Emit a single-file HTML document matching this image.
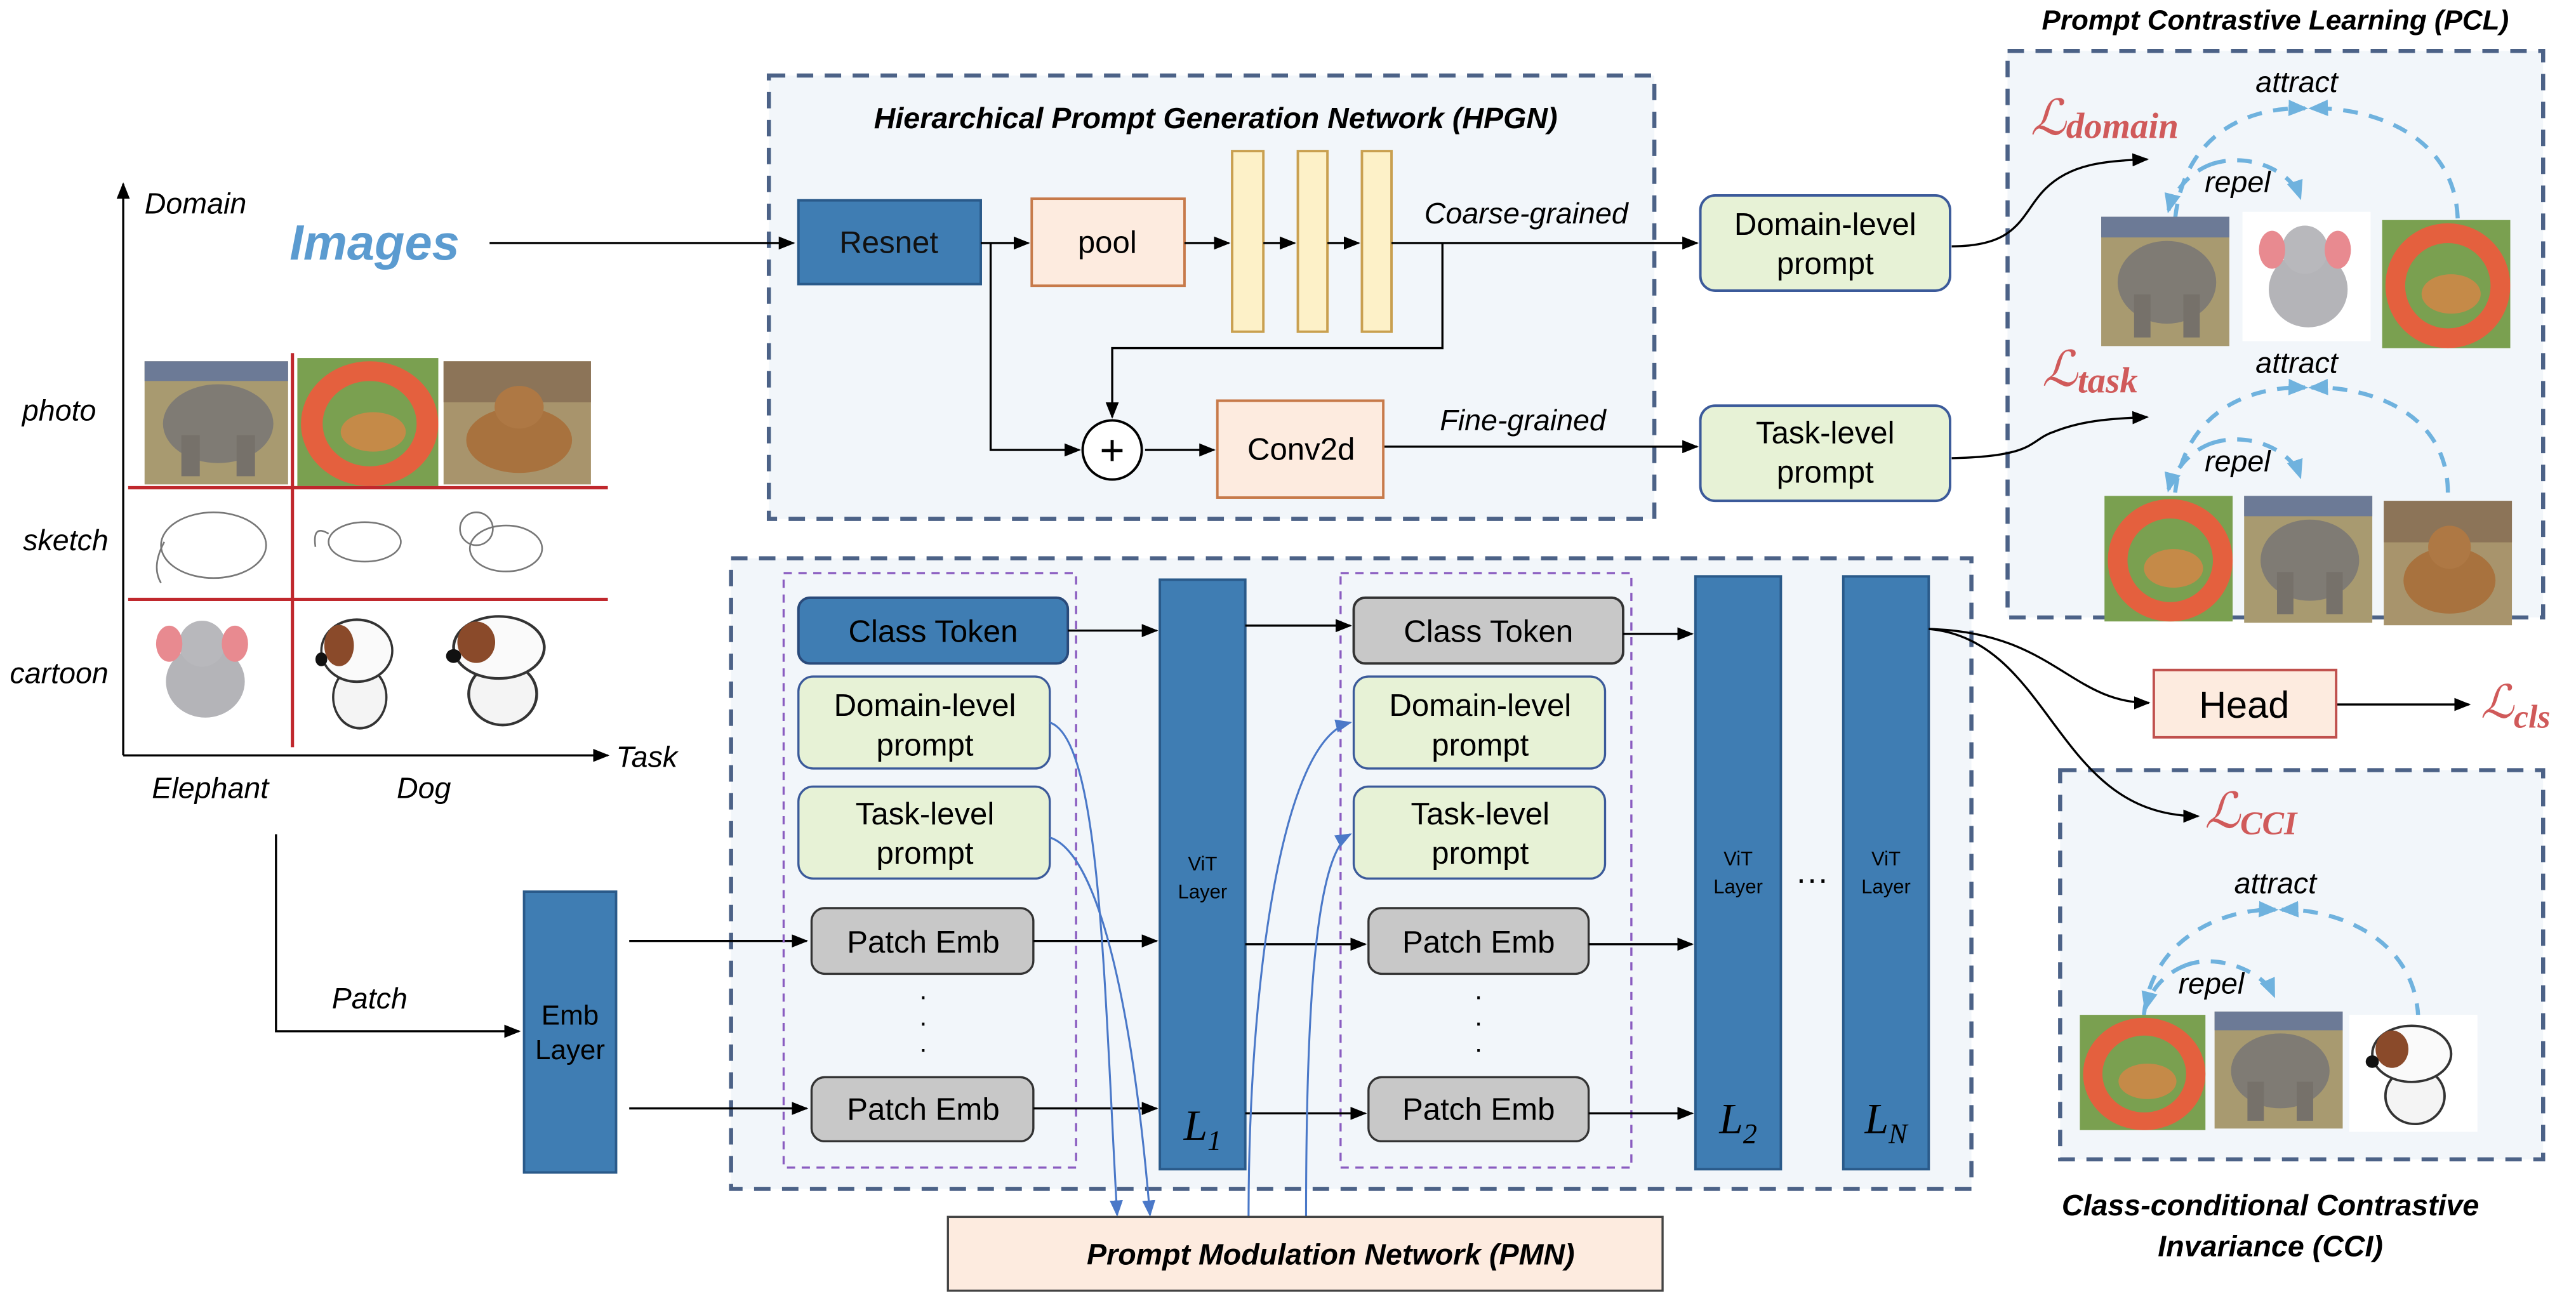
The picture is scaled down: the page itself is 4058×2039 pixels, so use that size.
<!DOCTYPE html>
<html><head><meta charset="utf-8"><style>html,body{margin:0;padding:0;background:#fff}svg{display:block}</style></head>
<body>
<svg width="4058" height="2039" viewBox="0 0 1568 788" preserveAspectRatio="none" xmlns="http://www.w3.org/2000/svg" font-family="Liberation Sans, Arial, sans-serif">
<defs>
<marker id="a" markerWidth="10" markerHeight="8" refX="9" refY="4" orient="auto" markerUnits="userSpaceOnUse"><path d="M0,0 L10,4 L0,8 Z" fill="#000"/></marker>
<marker id="b" markerWidth="10" markerHeight="8" refX="9" refY="4" orient="auto" markerUnits="userSpaceOnUse"><path d="M0,0 L10,4 L0,8 Z" fill="#4a78c8"/></marker>
<marker id="c" markerWidth="12" markerHeight="10" refX="10" refY="5" orient="auto" markerUnits="userSpaceOnUse"><path d="M0,0 L12,5 L0,10 Z" fill="#6fb2de"/></marker>
<g id="ephoto"><rect width="78" height="75" fill="#a89a70"/><rect width="78" height="12" fill="#6c7a96"/><ellipse cx="40" cy="38" rx="30" ry="24" fill="#7f7b74"/><rect x="20" y="45" width="10" height="25" fill="#76716a"/><rect x="50" y="45" width="10" height="25" fill="#76716a"/></g>
<g id="dring"><rect width="78" height="78" fill="#7aa050"/><circle cx="40" cy="40" r="32" fill="none" stroke="#e4603e" stroke-width="12"/><ellipse cx="42" cy="45" rx="18" ry="12" fill="#c58a48"/></g>
<g id="dphoto"><rect width="78" height="75" fill="#a8946c"/><rect width="78" height="25" fill="#8c7458"/><ellipse cx="40" cy="48" rx="28" ry="20" fill="#a8723e"/><circle cx="40" cy="28" r="13" fill="#ae7844"/></g>
<g id="ecart"><rect width="78" height="75" fill="#fff"/><ellipse cx="40" cy="45" rx="24" ry="22" fill="#b4b4b8"/><circle cx="38" cy="22" r="14" fill="#b8b8bc"/><ellipse cx="18" cy="22" rx="8" ry="11" fill="#e88a90"/><ellipse cx="58" cy="22" rx="8" ry="11" fill="#e88a90"/></g>
<g id="dcart"><rect width="78" height="75" fill="#fff"/><ellipse cx="40" cy="52" rx="18" ry="18" fill="#f4f4f4" stroke="#333" stroke-width="1.5"/><ellipse cx="38" cy="25" rx="24" ry="18" fill="#fafafa" stroke="#333" stroke-width="1.5"/><ellipse cx="26" cy="22" rx="10" ry="12" fill="#8a4a2a"/><circle cx="14" cy="30" r="4" fill="#111"/></g>
</defs>

<!-- container boxes first -->
<rect x="468" y="46" width="539" height="270" fill="#f2f6fa" stroke="#4c6287" stroke-width="2.5" stroke-dasharray="10,7"/>
<rect x="445" y="340" width="755" height="384" fill="#f2f6fa" stroke="#4c6287" stroke-width="2.5" stroke-dasharray="10,7"/>
<rect x="1222" y="31" width="326" height="345" fill="#f2f6fa" stroke="#4c6287" stroke-width="2.5" stroke-dasharray="10,7"/>
<rect x="1254" y="469" width="294" height="237" fill="#f2f6fa" stroke="#4c6287" stroke-width="2.5" stroke-dasharray="10,7"/>

<text x="740" y="78" text-anchor="middle" font-size="18" font-weight="bold" font-style="italic">Hierarchical Prompt Generation Network (HPGN)</text>
<rect x="486" y="122" width="111" height="51" fill="#3f7db3" stroke="#2a5a8a" stroke-width="1.5"/>
<text x="541" y="154" text-anchor="middle" font-size="19" fill="#111">Resnet</text>
<rect x="628" y="121" width="93" height="53" fill="#fdebdf" stroke="#c77a4a" stroke-width="1.5"/>
<text x="674" y="154" text-anchor="middle" font-size="19">pool</text>
<rect x="750" y="92" width="19" height="110" fill="#fdf1c8" stroke="#c9a050" stroke-width="1.5"/>
<rect x="790" y="92" width="18" height="110" fill="#fdf1c8" stroke="#c9a050" stroke-width="1.5"/>
<rect x="829" y="92" width="18" height="110" fill="#fdf1c8" stroke="#c9a050" stroke-width="1.5"/>
<g stroke="#000" stroke-width="1.3" fill="none">
<line x1="597" y1="148" x2="626" y2="148" marker-end="url(#a)"/>
<line x1="721" y1="148" x2="748" y2="148" marker-end="url(#a)"/>
<line x1="769" y1="148" x2="788" y2="148" marker-end="url(#a)"/>
<line x1="808" y1="148" x2="827" y2="148" marker-end="url(#a)"/>
<line x1="847" y1="148" x2="1033" y2="148" marker-end="url(#a)"/>
<polyline points="603,148 603,274 657,274" marker-end="url(#a)"/>
<polyline points="878,148 878,212 677,212 677,254" marker-end="url(#a)"/>
<line x1="697" y1="274" x2="739" y2="274" marker-end="url(#a)"/>
<line x1="842" y1="272" x2="1033" y2="272" marker-end="url(#a)"/>
<line x1="298" y1="148" x2="483" y2="148" marker-end="url(#a)"/>
</g>
<circle cx="677" cy="274" r="18" fill="#fff" stroke="#000" stroke-width="1.5"/>
<text x="677" y="283" text-anchor="middle" font-size="26">+</text>
<rect x="741" y="244" width="101" height="59" fill="#fdebdf" stroke="#c77a4a" stroke-width="1.5"/>
<text x="792" y="280" text-anchor="middle" font-size="19">Conv2d</text>
<text x="929" y="136" text-anchor="middle" font-size="18" font-style="italic">Coarse-grained</text>
<text x="927" y="262" text-anchor="middle" font-size="18" font-style="italic">Fine-grained</text>
<rect x="1035" y="119" width="152" height="58" rx="9" fill="#e7f2d6" stroke="#3b5a9a" stroke-width="1.5"/>
<text x="1111" y="143" text-anchor="middle" font-size="19">Domain-level</text>
<text x="1111" y="167" text-anchor="middle" font-size="19">prompt</text>
<rect x="1035" y="247" width="152" height="58" rx="9" fill="#e7f2d6" stroke="#3b5a9a" stroke-width="1.5"/>
<text x="1111" y="270" text-anchor="middle" font-size="19">Task-level</text>
<text x="1111" y="294" text-anchor="middle" font-size="19">prompt</text>

<text x="228" y="158" text-anchor="middle" font-size="30" font-weight="bold" font-style="italic" fill="#5b9bd0">Images</text>

<g stroke="#000" stroke-width="1.3" fill="none">
<line x1="75" y1="460" x2="75" y2="112" marker-end="url(#a)"/>
<line x1="75" y1="460" x2="370" y2="460" marker-end="url(#a)"/>
<polyline points="168,508 168,628 316,628" marker-end="url(#a)"/>
<line x1="383" y1="573" x2="491" y2="573" marker-end="url(#a)"/>
<line x1="383" y1="675" x2="491" y2="675" marker-end="url(#a)"/>
</g>
<text x="88" y="130" font-size="18" font-style="italic">Domain</text>
<text x="375" y="467" font-size="18" font-style="italic">Task</text>
<text x="36" y="256" text-anchor="middle" font-size="18" font-style="italic">photo</text>
<text x="40" y="335" text-anchor="middle" font-size="18" font-style="italic">sketch</text>
<text x="36" y="416" text-anchor="middle" font-size="18" font-style="italic">cartoon</text>
<text x="128" y="486" text-anchor="middle" font-size="18" font-style="italic">Elephant</text>
<text x="258" y="486" text-anchor="middle" font-size="18" font-style="italic">Dog</text>
<text x="225" y="614" text-anchor="middle" font-size="18" font-style="italic">Patch</text>

<use href="#ephoto" transform="translate(88,220) scale(1.12,1.0)"/>
<use href="#dring" transform="translate(181,218) scale(1.1,1.0)"/>
<use href="#dphoto" transform="translate(270,220) scale(1.15,1.0)"/>
<g fill="none" stroke="#777" stroke-width="1">
<ellipse cx="130" cy="332" rx="32" ry="20"/><path d="M100,330 q-8,15 -2,25"/>
<ellipse cx="222" cy="330" rx="22" ry="12"/><path d="M200,325 q-10,-6 -8,8"/>
<ellipse cx="308" cy="334" rx="22" ry="14"/><circle cx="290" cy="322" r="10"/>
</g>
<use href="#ecart" transform="translate(85,370)"/>
<use href="#dcart" transform="translate(183,370) scale(0.9,1.05)"/>
<use href="#dcart" transform="translate(260,368) scale(1.15,1.05)"/>
<g stroke="#c0282d" stroke-width="2">
<line x1="178" y1="215" x2="178" y2="455"/>
<line x1="78" y1="297" x2="370" y2="297"/>
<line x1="78" y1="365" x2="370" y2="365"/>
</g>

<rect x="319" y="543" width="56" height="171" fill="#3f7db3" stroke="#2a5a8a" stroke-width="1.5"/>
<text x="347" y="624" text-anchor="middle" font-size="17">Emb</text>
<text x="347" y="645" text-anchor="middle" font-size="17">Layer</text>

<rect x="477" y="349" width="178" height="362" fill="none" stroke="#8a5cc0" stroke-width="1.3" stroke-dasharray="5,4"/>
<rect x="816" y="349" width="177" height="362" fill="none" stroke="#8a5cc0" stroke-width="1.3" stroke-dasharray="5,4"/>

<rect x="486" y="364" width="164" height="40" rx="7" fill="#3f7db3" stroke="#2a4a7a" stroke-width="1.5"/>
<text x="568" y="391" text-anchor="middle" font-size="19">Class Token</text>
<rect x="486" y="412" width="153" height="56" rx="9" fill="#e7f2d6" stroke="#3b5a9a" stroke-width="1.3"/>
<text x="563" y="436" text-anchor="middle" font-size="19">Domain-level</text>
<text x="563" y="460" text-anchor="middle" font-size="19">prompt</text>
<rect x="486" y="479" width="153" height="56" rx="9" fill="#e7f2d6" stroke="#3b5a9a" stroke-width="1.3"/>
<text x="563" y="502" text-anchor="middle" font-size="19">Task-level</text>
<text x="563" y="526" text-anchor="middle" font-size="19">prompt</text>
<rect x="494" y="553" width="135" height="40" rx="8" fill="#c8c8c8" stroke="#333" stroke-width="1.3"/>
<text x="562" y="580" text-anchor="middle" font-size="19">Patch Emb</text>
<text x="562" y="612" text-anchor="middle" font-size="16">·</text>
<text x="562" y="628" text-anchor="middle" font-size="16">·</text>
<text x="562" y="644" text-anchor="middle" font-size="16">·</text>
<rect x="494" y="656" width="135" height="39" rx="8" fill="#c8c8c8" stroke="#333" stroke-width="1.3"/>
<text x="562" y="682" text-anchor="middle" font-size="19">Patch Emb</text>

<rect x="706" y="353" width="52" height="359" fill="#3f7db3" stroke="#2a5a8a" stroke-width="1.5"/>
<text x="732" y="530" text-anchor="middle" font-size="12">ViT</text>
<text x="732" y="547" text-anchor="middle" font-size="12">Layer</text>
<text x="732" y="694" text-anchor="middle" font-size="26" font-style="italic" font-family="Liberation Serif, serif">L<tspan font-size="17" dy="6">1</tspan></text>

<rect x="824" y="364" width="164" height="40" rx="7" fill="#c8c8c8" stroke="#333" stroke-width="1.5"/>
<text x="906" y="391" text-anchor="middle" font-size="19">Class Token</text>
<rect x="824" y="412" width="153" height="56" rx="9" fill="#e7f2d6" stroke="#3b5a9a" stroke-width="1.3"/>
<text x="901" y="436" text-anchor="middle" font-size="19">Domain-level</text>
<text x="901" y="460" text-anchor="middle" font-size="19">prompt</text>
<rect x="824" y="479" width="153" height="56" rx="9" fill="#e7f2d6" stroke="#3b5a9a" stroke-width="1.3"/>
<text x="901" y="502" text-anchor="middle" font-size="19">Task-level</text>
<text x="901" y="526" text-anchor="middle" font-size="19">prompt</text>
<rect x="833" y="553" width="134" height="40" rx="8" fill="#c8c8c8" stroke="#333" stroke-width="1.3"/>
<text x="900" y="580" text-anchor="middle" font-size="19">Patch Emb</text>
<text x="900" y="612" text-anchor="middle" font-size="16">·</text>
<text x="900" y="628" text-anchor="middle" font-size="16">·</text>
<text x="900" y="644" text-anchor="middle" font-size="16">·</text>
<rect x="833" y="656" width="134" height="39" rx="8" fill="#c8c8c8" stroke="#333" stroke-width="1.3"/>
<text x="900" y="682" text-anchor="middle" font-size="19">Patch Emb</text>

<rect x="1032" y="351" width="52" height="361" fill="#3f7db3" stroke="#2a5a8a" stroke-width="1.5"/>
<text x="1058" y="527" text-anchor="middle" font-size="12">ViT</text>
<text x="1058" y="544" text-anchor="middle" font-size="12">Layer</text>
<text x="1058" y="690" text-anchor="middle" font-size="26" font-style="italic" font-family="Liberation Serif, serif">L<tspan font-size="17" dy="6">2</tspan></text>
<text x="1103" y="542" text-anchor="middle" font-size="20">···</text>
<rect x="1122" y="351" width="52" height="361" fill="#3f7db3" stroke="#2a5a8a" stroke-width="1.5"/>
<text x="1148" y="527" text-anchor="middle" font-size="12">ViT</text>
<text x="1148" y="544" text-anchor="middle" font-size="12">Layer</text>
<text x="1148" y="690" text-anchor="middle" font-size="26" font-style="italic" font-family="Liberation Serif, serif">L<tspan font-size="17" dy="6">N</tspan></text>

<g stroke="#000" stroke-width="1.3" fill="none">
<line x1="650" y1="384" x2="704" y2="384" marker-end="url(#a)"/>
<line x1="758" y1="381" x2="822" y2="381" marker-end="url(#a)"/>
<line x1="988" y1="386" x2="1030" y2="386" marker-end="url(#a)"/>
<line x1="629" y1="573" x2="704" y2="573" marker-end="url(#a)"/>
<line x1="758" y1="575" x2="831" y2="575" marker-end="url(#a)"/>
<line x1="967" y1="575" x2="1030" y2="575" marker-end="url(#a)"/>
<line x1="629" y1="675" x2="704" y2="675" marker-end="url(#a)"/>
<line x1="758" y1="678" x2="831" y2="678" marker-end="url(#a)"/>
<line x1="967" y1="678" x2="1030" y2="678" marker-end="url(#a)"/>
<path d="M1174,383 C1250,385 1260,428 1308,428" marker-end="url(#a)"/>
<path d="M1174,383 C1250,390 1250,497 1338,497" marker-end="url(#a)"/>
<line x1="1422" y1="429" x2="1503" y2="429" marker-end="url(#a)"/>
<path d="M1188,150 C1230,150 1230,130 1245,115 C1260,100 1280,98 1307,97" marker-end="url(#a)"/>
<path d="M1188,279 C1240,278 1235,268 1250,263 C1265,257 1280,255 1307,254" marker-end="url(#a)"/>
</g>
<g stroke="#4a78c8" stroke-width="1.2" fill="none">
<path d="M639,440 C670,450 672,600 680,740" marker-end="url(#b)"/>
<path d="M639,510 C670,520 690,620 700,740" marker-end="url(#b)"/>
<path d="M760,741 C760,600 780,450 822,440" marker-end="url(#b)"/>
<path d="M795,741 C795,620 800,520 822,508" marker-end="url(#b)"/>
</g>
<rect x="577" y="741" width="435" height="45" fill="#fdebdf" stroke="#444" stroke-width="1.3"/>
<text x="810" y="770" text-anchor="middle" font-size="18" font-weight="bold" font-style="italic">Prompt Modulation Network (PMN)</text>

<rect x="1311" y="408" width="111" height="41" fill="#fdebdf" stroke="#c0504d" stroke-width="1.5"/>
<text x="1366" y="437" text-anchor="middle" font-size="23">Head</text>
<text x="1510" y="437" font-size="28" fill="#d05a5a" font-family="Liberation Serif, serif" font-style="italic">ℒ<tspan font-size="20" font-weight="bold" dy="6">cls</tspan></text>

<text x="1385" y="18" text-anchor="middle" font-size="17" font-weight="bold" font-style="italic">Prompt Contrastive Learning (PCL)</text>
<text x="1236" y="82" font-size="30" fill="#d05a5a" font-family="Liberation Serif, serif" font-style="italic">ℒ<tspan font-size="22" font-weight="bold" dy="2">domain</tspan></text>
<text x="1398" y="56" text-anchor="middle" font-size="18" font-style="italic">attract</text>
<text x="1362" y="117" text-anchor="middle" font-size="18" font-style="italic">repel</text>
<g stroke="#6fb2de" stroke-width="2.5" fill="none" stroke-dasharray="9,7">
<path d="M1324,133 C1330,80 1370,65 1403,66" marker-end="url(#c)"/>
<path d="M1496,133 C1494,80 1440,65 1407,66" marker-end="url(#c)"/>
<path d="M1346,100 C1330,106 1322,120 1320,128" marker-end="url(#c)"/>
<path d="M1346,100 C1370,92 1395,105 1400,120" marker-end="url(#c)"/>
</g>
<use href="#ephoto" transform="translate(1279,132) scale(1.0,1.05)"/>
<use href="#ecart" transform="translate(1365,129) scale(1.0,1.05)"/>
<use href="#dring" transform="translate(1450,134) scale(1.0,1.0)"/>
<text x="1243" y="235" font-size="30" fill="#d05a5a" font-family="Liberation Serif, serif" font-style="italic">ℒ<tspan font-size="22" font-weight="bold" dy="4">task</tspan></text>
<text x="1398" y="227" text-anchor="middle" font-size="18" font-style="italic">attract</text>
<text x="1362" y="287" text-anchor="middle" font-size="18" font-style="italic">repel</text>
<g stroke="#6fb2de" stroke-width="2.5" fill="none" stroke-dasharray="9,7">
<path d="M1324,300 C1330,250 1370,235 1403,236" marker-end="url(#c)"/>
<path d="M1490,300 C1490,250 1440,235 1407,236" marker-end="url(#c)"/>
<path d="M1346,270 C1330,276 1322,290 1320,298" marker-end="url(#c)"/>
<path d="M1346,270 C1370,262 1395,275 1400,290" marker-end="url(#c)"/>
</g>
<use href="#dring" transform="translate(1281,302) scale(1.0,0.98)"/>
<use href="#ephoto" transform="translate(1366,302) scale(1.0,1.03)"/>
<use href="#dphoto" transform="translate(1451,305) scale(1.0,1.01)"/>

<text x="1342" y="504" font-size="30" fill="#d05a5a" font-family="Liberation Serif, serif" font-style="italic">ℒ<tspan font-size="20" font-weight="bold" dy="4">CCI</tspan></text>
<text x="1385" y="544" text-anchor="middle" font-size="18" font-style="italic">attract</text>
<text x="1346" y="605" text-anchor="middle" font-size="18" font-style="italic">repel</text>
<g stroke="#6fb2de" stroke-width="2.5" fill="none" stroke-dasharray="9,7">
<path d="M1305,618 C1310,570 1355,553 1385,554" marker-end="url(#c)"/>
<path d="M1472,620 C1470,570 1420,553 1389,554" marker-end="url(#c)"/>
<path d="M1330,588 C1315,594 1308,606 1306,614" marker-end="url(#c)"/>
<path d="M1330,588 C1350,580 1378,592 1384,606" marker-end="url(#c)"/>
</g>
<use href="#dring" transform="translate(1266,618) scale(0.98,0.9)"/>
<use href="#ephoto" transform="translate(1348,616) scale(1.0,0.95)"/>
<use href="#dcart" transform="translate(1430,618) scale(1.0,0.95)"/>
<text x="1382" y="740" text-anchor="middle" font-size="18" font-weight="bold" font-style="italic">Class-conditional Contrastive</text>
<text x="1382" y="765" text-anchor="middle" font-size="18" font-weight="bold" font-style="italic">Invariance (CCI)</text>
</svg>
</body></html>
